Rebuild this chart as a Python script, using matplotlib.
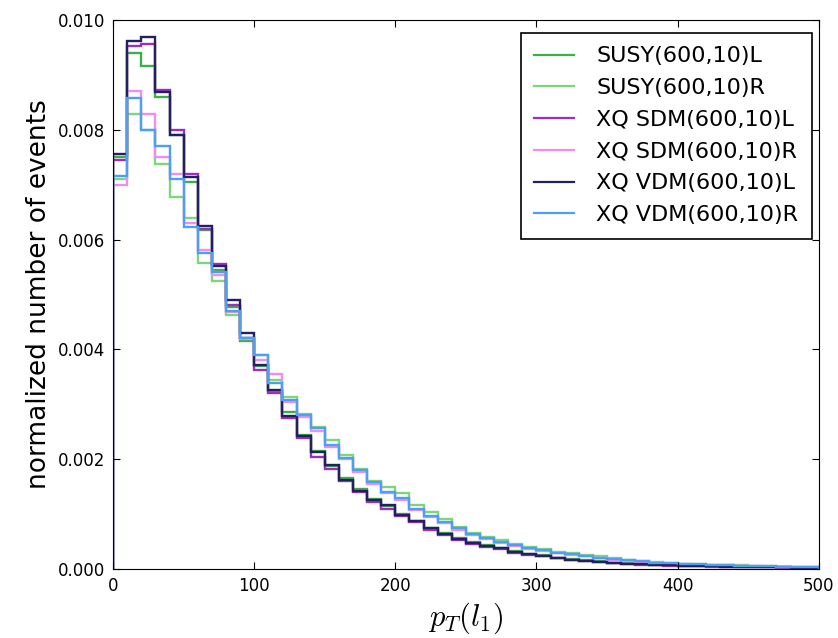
import matplotlib
matplotlib.use('Agg')
import matplotlib.pyplot as plt
from matplotlib.lines import Line2D
import numpy as np

plt.rcParams['mathtext.fontset'] = 'cm'

# bin edges in pT (GeV), 10 GeV wide
edges = np.arange(0, 510, 10)

labels = ['SUSY(600,10)L', 'SUSY(600,10)R', 'XQ SDM(600,10)L',
          'XQ SDM(600,10)R', 'XQ VDM(600,10)L', 'XQ VDM(600,10)R']
colors = ['#3fae49', '#7ed67a', '#9a2fc0', '#f08ef0', '#23205f', '#4c9ff2']

susy_L = [0.00750, 0.00940, 0.00915, 0.00860, 0.00790, 0.00705, 0.00617, 0.00544, 0.00477, 0.00416,
          0.00370, 0.00325, 0.00286, 0.00245, 0.00215, 0.00188, 0.00165, 0.00145, 0.00127, 0.00114,
          0.00100, 0.00088, 0.00074, 0.00065, 0.00056, 0.00049, 0.00043, 0.00038, 0.00033, 0.00028,
          0.00025, 0.00021, 0.00018, 0.00016, 0.00014, 0.00012, 0.00011, 0.00009, 0.00008, 0.00007,
          0.00006, 0.00006, 0.00005, 0.00005, 0.00004, 0.00004, 0.00003, 0.00003, 0.00002, 0.00002]
susy_R = [0.00710, 0.00829, 0.00800, 0.00738, 0.00678, 0.00640, 0.00558, 0.00525, 0.00462, 0.00420,
          0.00390, 0.00345, 0.00313, 0.00282, 0.00258, 0.00235, 0.00208, 0.00183, 0.00160, 0.00150,
          0.00138, 0.00117, 0.00104, 0.00091, 0.00077, 0.00066, 0.00059, 0.00053, 0.00046, 0.00040,
          0.00037, 0.00032, 0.00030, 0.00026, 0.00024, 0.00020, 0.00017, 0.00015, 0.00013, 0.00012,
          0.00010, 0.00009, 0.00008, 0.00008, 0.00007, 0.00006, 0.00005, 0.00004, 0.00004, 0.00003]
sdm_L = [0.00745, 0.00952, 0.00955, 0.00872, 0.00800, 0.00720, 0.00620, 0.00556, 0.00480, 0.00420,
         0.00362, 0.00320, 0.00275, 0.00238, 0.00204, 0.00183, 0.00160, 0.00140, 0.00123, 0.00110,
         0.00096, 0.00085, 0.00071, 0.00062, 0.00053, 0.00046, 0.00040, 0.00036, 0.00030, 0.00026,
         0.00023, 0.00020, 0.00017, 0.00015, 0.00013, 0.00011, 0.00010, 0.00008, 0.00007, 0.00006,
         0.00006, 0.00005, 0.00004, 0.00004, 0.00003, 0.00003, 0.00003, 0.00002, 0.00002, 0.00002]
sdm_R = [0.00700, 0.00870, 0.00828, 0.00750, 0.00720, 0.00630, 0.00580, 0.00535, 0.00468, 0.00418,
         0.00380, 0.00355, 0.00305, 0.00276, 0.00252, 0.00222, 0.00200, 0.00176, 0.00155, 0.00138,
         0.00126, 0.00108, 0.00094, 0.00084, 0.00072, 0.00062, 0.00055, 0.00048, 0.00042, 0.00037,
         0.00033, 0.00029, 0.00026, 0.00023, 0.00020, 0.00017, 0.00015, 0.00013, 0.00012, 0.00010,
         0.00009, 0.00008, 0.00007, 0.00007, 0.00006, 0.00005, 0.00004, 0.00004, 0.00003, 0.00003]
vdm_L = [0.00755, 0.00962, 0.00968, 0.00868, 0.00790, 0.00713, 0.00625, 0.00552, 0.00489, 0.00430,
         0.00372, 0.00326, 0.00278, 0.00242, 0.00214, 0.00190, 0.00163, 0.00143, 0.00125, 0.00116,
         0.00099, 0.00088, 0.00074, 0.00064, 0.00055, 0.00048, 0.00042, 0.00038, 0.00032, 0.00027,
         0.00024, 0.00020, 0.00017, 0.00015, 0.00013, 0.00011, 0.00010, 0.00009, 0.00008, 0.00007,
         0.00006, 0.00005, 0.00005, 0.00004, 0.00004, 0.00003, 0.00003, 0.00003, 0.00002, 0.00002]
vdm_R = [0.00715, 0.00858, 0.00800, 0.00770, 0.00710, 0.00622, 0.00575, 0.00540, 0.00470, 0.00420,
         0.00389, 0.00338, 0.00307, 0.00280, 0.00256, 0.00226, 0.00203, 0.00180, 0.00158, 0.00140,
         0.00130, 0.00110, 0.00096, 0.00086, 0.00074, 0.00063, 0.00056, 0.00049, 0.00043, 0.00038,
         0.00034, 0.00030, 0.00027, 0.00024, 0.00021, 0.00018, 0.00016, 0.00014, 0.00012, 0.00011,
         0.00010, 0.00009, 0.00008, 0.00007, 0.00006, 0.00006, 0.00005, 0.00004, 0.00004, 0.00003]

series = [susy_L, susy_R, sdm_L, sdm_R, vdm_L, vdm_R]

fig = plt.figure(figsize=(8.38, 6.38), dpi=100)
ax = fig.add_axes([0.135, 0.108, 0.842, 0.861])

for vals, col in zip(series, colors):
    ax.stairs(vals, edges, color=col, linewidth=1.7)

ax.set_xlim(0, 500)
ax.set_ylim(0, 0.010)
ax.set_xticks([0, 100, 200, 300, 400, 500])
ax.set_yticks([0.000, 0.002, 0.004, 0.006, 0.008, 0.010])
ax.yaxis.set_major_formatter(matplotlib.ticker.FormatStrFormatter('%.3f'))
ax.tick_params(direction='in', top=True, right=True, labelsize=12, length=5, pad=6)

ax.set_ylabel('normalized number of events', fontsize=19)
ax.set_xlabel('$p_T(l_1)$', fontsize=22, labelpad=4)

handles = [Line2D([], [], color=c, linewidth=1.6) for c in colors]
leg = ax.legend(handles, labels, loc='upper right', bbox_to_anchor=(0.990, 0.976),
                fontsize=16, fancybox=False, handlelength=1.8, handletextpad=1.0,
                borderpad=0.6, labelspacing=0.53, framealpha=1, borderaxespad=0)
leg.get_frame().set_edgecolor('black')
leg.get_frame().set_linewidth(1.2)

fig.savefig('out.png', dpi=100)
